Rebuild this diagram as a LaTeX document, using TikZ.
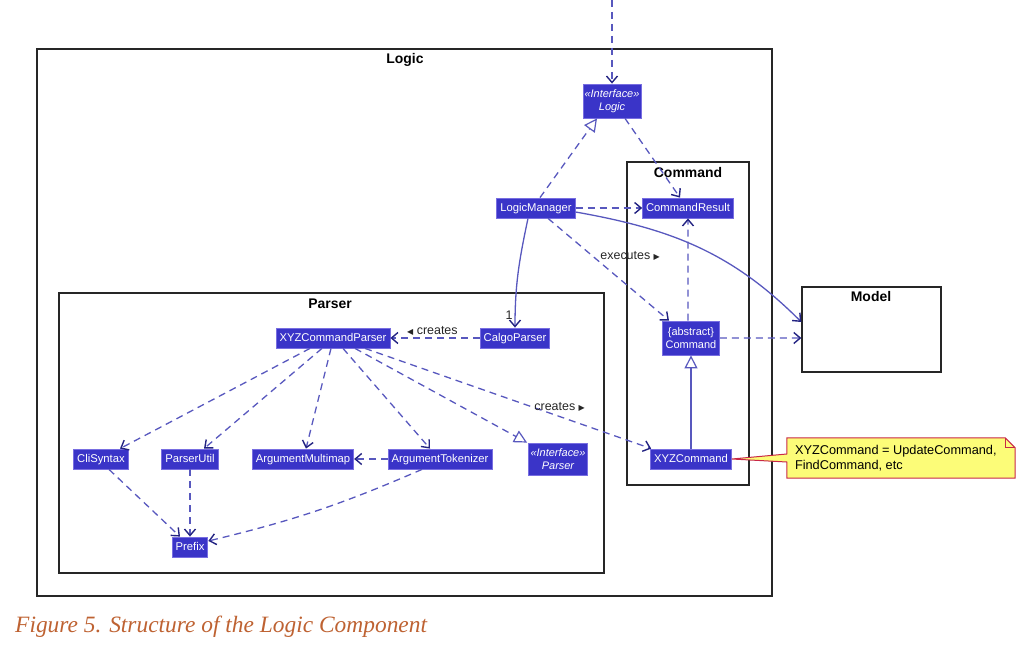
\documentclass[tikz,border=0pt]{standalone}
\usepackage{fontspec}
\setmainfont{Liberation Sans}
\newfontfamily\capfont{Liberation Serif}
\newfontfamily\symfont{DejaVu Sans}
\usetikzlibrary{arrows.meta,calc}
\definecolor{clsfill}{RGB}{58,52,200}
\definecolor{clsborder}{RGB}{120,110,225}
\definecolor{edgeblue}{RGB}{88,88,190}
\definecolor{tipblue}{RGB}{35,35,130}
\definecolor{notefill}{RGB}{252,252,120}
\definecolor{noteborder}{RGB}{200,40,70}
\definecolor{capcol}{RGB}{190,98,50}
\newcommand{\rtri}{{\symfont\fontsize{8}{8}\selectfont ▶}}
\newcommand{\ltri}{{\symfont\fontsize{8}{8}\selectfont ◀}}
\tikzset{
  clsbase/.style={draw=clsborder, fill=clsfill, text=white, line width=0.8bp, inner ysep=0pt},
  cls/.style={clsbase, font=\fontsize{11.3}{13}\selectfont, inner xsep=3.5bp,
    minimum height=20bp, text height=8.5bp, text depth=2bp},
  cls2/.style={clsbase, align=center, minimum height=34bp, inner xsep=1bp, font=\fontsize{11}{12.5}\selectfont},
  frame/.style={draw=black!85, line width=1.3bp},
  ftitle/.style={font=\bfseries\fontsize{14}{16}\selectfont, inner sep=0pt},
  barb/.style={-{Straight Barb[length=6.5bp, width=11bp, line width=1.4bp, color=tipblue]}},
  dep/.style={draw=edgeblue, line width=1.3bp, dash pattern=on 7bp off 5bp, barb},
  assoc/.style={draw=edgeblue, line width=1.3bp, barb},
  real/.style={draw=edgeblue, line width=1.3bp, dash pattern=on 7bp off 5bp,
    -{Triangle[open, fill=white, length=13bp, width=13bp, line width=1.2bp]}},
  inh/.style={draw=edgeblue, line width=1.3bp,
    -{Triangle[open, fill=white, length=13bp, width=13bp, line width=1.2bp]}},
  elabel/.style={font=\fontsize{12.5}{14}\selectfont, text=black!85, inner sep=1bp},
}
\begin{document}
\begin{tikzpicture}[x=1bp, y=-1bp]
\useasboundingbox (0,0) rectangle (1022,648);
% frames
\draw[frame] (37,49) rectangle (772,596);
\node[ftitle] (tlogic) at (405,60) {Logic};
\draw[frame] (627,162) rectangle (749,485);
\node[ftitle] (tcmd) at (688,173) {Command};
\draw[frame] (59,293) rectangle (604,573);
\node[ftitle] (tparser) at (330,304) {Parser};
\node[frame, minimum width=139bp, minimum height=85bp, inner sep=0pt] (model) at (871.5,329.5) {};
\node[ftitle] (tmodel) at (871,297) {Model};
% classes
\node[cls2, minimum width=58bp] (logic) at (612,101) {\itshape «Interface»\\\itshape Logic};
\node[cls] (lm) at (536,208) {LogicManager};
\node[cls] (cr) at (688,208) {CommandResult};
\node[cls] (calgo) at (515,338) {CalgoParser};
\node[cls] (xyzp) at (333,338) {XYZCommandParser};
\node[cls2, minimum width=57bp] (cmd) at (691,338) {\{abstract\}\\Command};
\node[cls] (xyz) at (691,459) {XYZCommand};
\node[cls] (cli) at (101,459) {CliSyntax};
\node[cls] (pu) at (190,459) {ParserUtil};
\node[cls] (am) at (303,459) {ArgumentMultimap};
\node[cls] (at) at (440,459) {ArgumentTokenizer};
\node[cls2, minimum width=59bp, minimum height=32bp] (pint) at (558,459) {\itshape «Interface»\\\itshape Parser};
\node[cls] (prefix) at (190,547) {Prefix};
% note placeholder
\node[minimum width=228bp, minimum height=40bp, inner sep=0pt] (note) at (901,458) {};
\coordinate (top) at (612,0);
% edges
\draw[dep] (top) -- (logic.north);
\draw[real] ([xshift=4bp]lm.north) -- ([xshift=-15bp]logic.south);
\draw[dep] ([xshift=13bp]logic.south) -- ([xshift=-8bp]cr.north);
\draw[dep] (lm.east) -- (cr.west);
\draw[assoc] ([xshift=-8bp]lm.south) to[out=-102, in=90]
  node[pos=0.9, left, elabel, xshift=-1bp] {1} (calgo.north);
\draw[assoc] ([yshift=-4bp]lm.east) to[out=-10, in=135] ([yshift=7.5bp]model.west);
\draw[dep] ([xshift=12bp]lm.south) -- node[pos=0.37, anchor=west, xshift=6bp, elabel] {executes \rtri} ([xshift=-22bp]cmd.north);
\draw[dep] ([xshift=-3bp]cmd.north) -- ([xshift=0bp]cr.south);
\draw[dep] (cmd.east) -- ([yshift=-8.5bp]model.west);
\draw[inh] (xyz.north) -- (cmd.south);
\draw[dep] (calgo.west) -- node[pos=0.53, above, yshift=1bp, elabel] {\ltri\ creates} (xyzp.east);
\draw[dep] ([xshift=-23bp]xyzp.south) -- ([xshift=19bp]cli.north);
\draw[dep] ([xshift=-11bp]xyzp.south) -- ([xshift=14bp]pu.north);
\draw[dep] ([xshift=-2bp]xyzp.south) -- ([xshift=3bp]am.north);
\draw[dep] ([xshift=10bp]xyzp.south) -- ([xshift=-10bp]at.north);
\draw[real] ([xshift=22bp]xyzp.south) -- ([xshift=-1bp]pint.north west);
\draw[dep] ([xshift=32bp]xyzp.south) -- node[pos=0.68, above, yshift=3bp, elabel] {creates \rtri} ([xshift=1bp]xyz.north west);
\draw[dep] (at.west) -- (am.east);
\draw[dep] ([xshift=-18bp]at.south) to[bend left=5] ([yshift=6bp]prefix.east);
\draw[dep] ([xshift=8bp]cli.south) -- ([xshift=-10bp]prefix.north);
\draw[dep] (pu.south) -- (prefix.north);
% note shape
\draw[fill=notefill, draw=noteborder, line width=1bp, line join=miter]
  (note.north west) -- ([xshift=-10bp]note.north east) -- ([yshift=-10bp]note.north east)
  -- (note.south east) -- (note.south west) -- ([yshift=-4bp]note.west) -- (xyz.east)
  -- ([yshift=4bp]note.west) -- cycle;
\draw[draw=noteborder, line width=1bp] ([xshift=-10bp]note.north east) |- ([yshift=-10bp]note.north east);
\node[anchor=west, align=left, font=\fontsize{12.8}{15}\selectfont, inner sep=0pt] (notetext) at ([xshift=8bp]note.west)
  {XYZCommand = UpdateCommand,\\FindCommand, etc};
% caption
\node[anchor=base west, inner sep=0pt, text=capcol, font=\capfont\itshape\fontsize{23.5}{26}\selectfont] (caption) at (15,632)
  {Figure 5. Structure of the Logic Component};
\end{tikzpicture}
\end{document}
